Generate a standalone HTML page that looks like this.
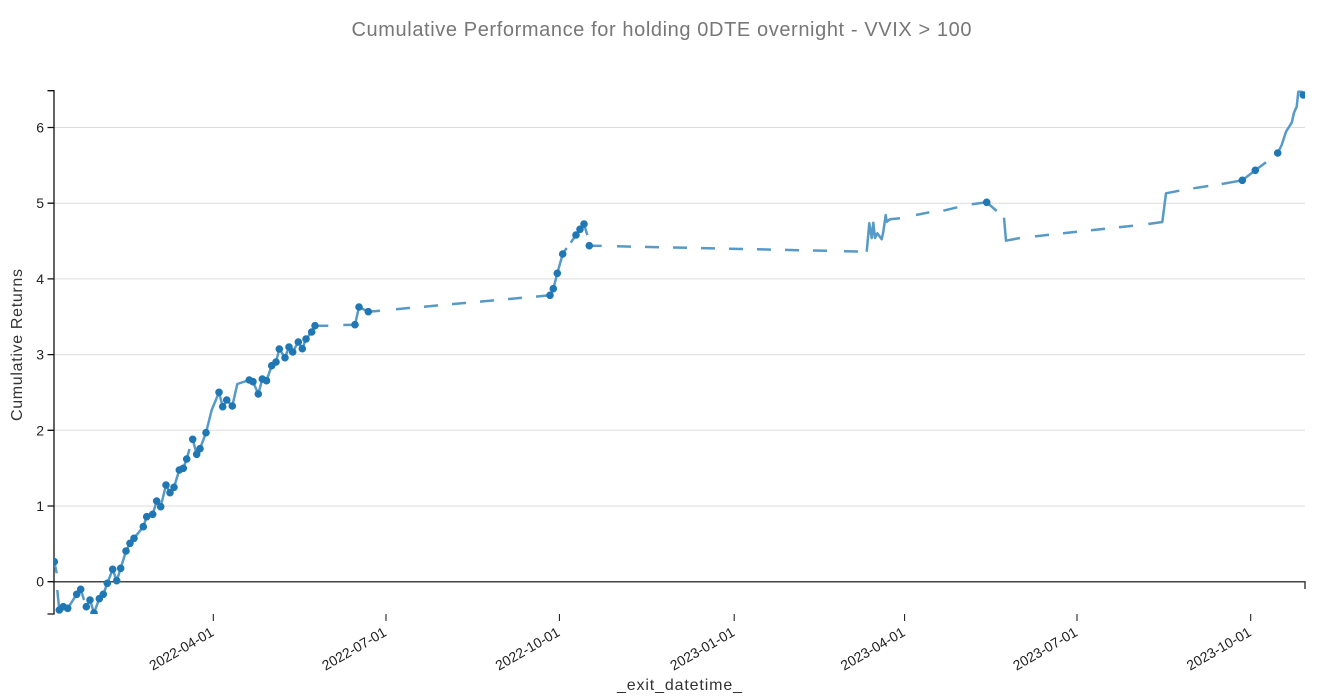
<!DOCTYPE html>
<html><head><meta charset="utf-8"><style>
html,body{margin:0;padding:0;background:#fff;}
svg{display:block;font-family:"Liberation Sans",Arial,sans-serif;}
</style></head><body>
<svg width="1322" height="696" viewBox="0 0 1322 696" xmlns="http://www.w3.org/2000/svg">
<defs><clipPath id="c"><rect x="54" y="84" width="1251" height="530"/></clipPath></defs>
<rect width="1322" height="696" fill="#fff"/>
<text x="661.5" y="36" text-anchor="middle" font-size="20" fill="#777" textLength="620" lengthAdjust="spacing">Cumulative Performance for holding 0DTE overnight - VVIX &gt; 100</text>
<path d="M54,506H1305M54,430.3H1305M54,354.6H1305M54,278.9H1305M54,203.2H1305M54,127.5H1305" stroke="#ddd" stroke-width="1" fill="none"/>
<path d="M54,581.7H1305V589" fill="none" stroke="#444" stroke-width="1.5"/>
<path d="M47.5,90.7H54V614H47.5M47.5,581.7H54M47.5,506H54M47.5,430.3H54M47.5,354.6H54M47.5,278.9H54M47.5,203.2H54M47.5,127.5H54" fill="none" stroke="#111" stroke-width="1.3"/>
<g font-size="14" fill="#222" text-anchor="end">
<text x="44" y="586.7">0</text><text x="44" y="511">1</text><text x="44" y="435.3">2</text><text x="44" y="359.6">3</text><text x="44" y="283.9">4</text><text x="44" y="208.2">5</text><text x="44" y="132.5">6</text>
</g>
<path d="M213.3,614v7M386,614v7M559.4,614v7M734.2,614v7M904.6,614v7M1077,614v7M1250.7,614v7" stroke="#111" stroke-width="1" fill="none"/>
<g font-size="14" fill="#222" text-anchor="end">
<text transform="translate(214.8,635) rotate(-30)">2022-04-01</text>
<text transform="translate(387.5,635) rotate(-30)">2022-07-01</text>
<text transform="translate(560.9,635) rotate(-30)">2022-10-01</text>
<text transform="translate(735.7,635) rotate(-30)">2023-01-01</text>
<text transform="translate(906.1,635) rotate(-30)">2023-04-01</text>
<text transform="translate(1078.5,635) rotate(-30)">2023-07-01</text>
<text transform="translate(1252.2,635) rotate(-30)">2023-10-01</text>
</g>
<text transform="translate(22,345) rotate(-90)" text-anchor="middle" font-size="16" fill="#333" textLength="152" lengthAdjust="spacing">Cumulative Returns</text>
<text x="679.5" y="690" text-anchor="middle" font-size="16" fill="#333" textLength="125" lengthAdjust="spacing">_exit_datetime_</text>
<g clip-path="url(#c)">
<path fill="none" stroke="rgb(87,153,199)" stroke-width="2.5" stroke-linejoin="round" d="
M54.3,561.7L56.7,573.3
M57.3,590L59.3,610L63.3,606.7L67.7,608.3L76.7,594.3L80.7,589.3L84,600
M86.3,606.7L90,600L94,613L99.3,598.7L103.3,594.3L107.3,583.3L112.7,569.3L116.7,580.7L120.7,568.3L126,551L130,543.3L134,538.3L143.3,526.7L146.7,516.7L152.7,514.3L156.7,501L160.7,506.7L166,485L170,492.7L174,487.3L179.3,470L183.3,468.3L186.7,459L189.5,449
M192.7,439.3L196.7,454.3L200,448.7L206,432.7L211.7,410L219,392.3L222.7,406.7L226.7,400L232.3,406L237.3,384L249.3,380L253,381.7L258.3,394L262.3,379L266.5,380.7L271.7,365.7L276,362L279.3,349L285,357.7L289,347L292.7,352L298.3,342L302.3,348.7L306,339L311.7,332L315,325.7L328.3,325.7
M343.3,325L355,324.7L359,307L368.3,311.7L380,310.7
M396,309.2L410,307.9M424,306.7L438,305.4M452,304.1L466,302.9M480,301.6L494,300.4M508,299.1L522,297.8
M536,296.6L550,295.3L553.3,288.7L557.3,273.3L562.7,254L566.7,248
M570.7,242.7L576,235L580,229.3L584,224L587.3,235
M589.3,245.7L601.7,245.9
M617,246.3L631,246.6M645,246.9L659,247.2M673,247.5L687,247.8M701,248.1L715,248.4M729,248.7L743,249M757,249.3L771,249.6M785,249.9L799,250.2M813,250.5L827,250.8M844,251.2L858,251.5
M866.7,251.7L869.3,223.3L871.7,238L873.3,222.7L875,238L877.3,233.3L881.7,239.3L883.3,231.7L885.7,215L886.7,221.7L890,219.3L900,218.3
M916,215L929.3,212.3M943.3,210.7L957.3,207.3
M971.7,204.3L986.7,202.3L996.7,211
M1004,217.7L1006,240.7L1020,238
M1035,236.4L1049,234.8M1063,233.3L1077,231.8M1091,230.3L1105,228.7M1119,227.2L1133,225.7
M1148.3,224L1162.3,222L1166,193.3L1179.3,190.7
M1193.3,188.3L1208.3,186
M1221.7,184L1242.3,180.3L1255.3,170.3L1266,162.3
M1277.7,153L1281.7,145L1286,131.7L1291.7,122.7L1294,112.7L1296.7,106.7L1298.3,91.7L1301.7,91.7L1303.3,95L1306,96"/>
<path fill="none" stroke="#1f77b4" stroke-width="7.6" stroke-linecap="round" d="
M54.3,561.7h0M59.3,610h0M63.3,606.7h0M67.7,608.3h0M76.7,594.3h0M80.7,589.3h0M86.3,606.7h0M90,600h0M94,613h0M99.3,598.7h0
M103.3,594.3h0M107.3,583.3h0M112.7,569.3h0M116.7,580.7h0M120.7,568.3h0M126,551h0M130,543.3h0M134,538.3h0M143.3,526.7h0M146.7,516.7h0
M152.7,514.3h0M156.7,501h0M160.7,506.7h0M166,485h0M170,492.7h0M174,487.3h0M179.3,470h0M183.3,468.3h0M186.7,459h0M192.7,439.3h0
M196.7,454.3h0M200,448.7h0M206,432.7h0M219,392.3h0M222.7,406.7h0M226.7,400h0M232.3,406h0M249.3,380h0M253,381.7h0M258.3,394h0
M262.3,379h0M266.5,380.7h0M271.7,365.7h0M276,362h0M279.3,349h0M285,357.7h0M289,347h0M292.7,352h0M298.3,342h0M302.3,348.7h0
M306,339h0M311.7,332h0M315,325.7h0M355,324.7h0M359,307h0M368.3,311.7h0M550,295.3h0M553.3,288.7h0M557.3,273.3h0M562.7,254h0
M576,235h0M580,229.3h0M584,224h0M589.3,245.7h0M986.7,202.3h0M1242.3,180.3h0M1255.3,170.3h0M1277.7,153h0M1303.3,95h0"/>
</g>
</svg>
</body></html>
